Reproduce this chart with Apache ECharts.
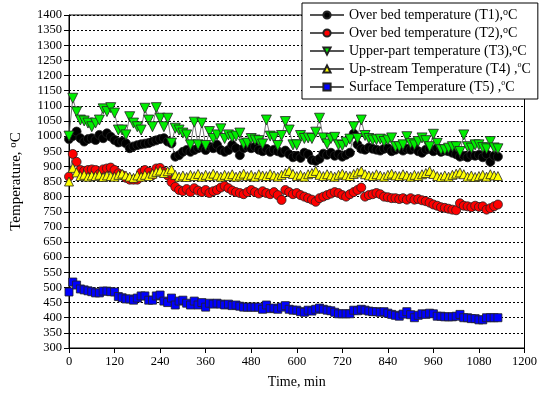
<!DOCTYPE html>
<html>
<head>
<meta charset="utf-8">
<script src="https://cdn.jsdelivr.net/npm/echarts@6/dist/echarts.min.js"></script>
<style>
  html, body { margin: 0; padding: 0; background: #fff; }
  #chart { width: 540px; height: 394px; }
</style>
</head>
<body>
<div id="chart"></div>
<script>
// time, min (one reading every 10 min)
const time = [0,10,20,30,40,50,60,70,80,90,100,110,120,130,140,150,160,170,180,190,
  200,210,220,230,240,250,260,270,280,290,300,310,320,330,340,350,360,370,380,390,
  400,410,420,430,440,450,460,470,480,490,500,510,520,530,540,550,560,570,580,590,
  600,610,620,630,640,650,660,670,680,690,700,710,720,730,740,750,760,770,780,790,
  800,810,820,830,840,850,860,870,880,890,900,910,920,930,940,950,960,970,980,990,
  1000,1010,1020,1030,1040,1050,1060,1070,1080,1090,1100,1110,1120,1130];

// Over bed temperature (T1)
const t1 = [990,1000,1015,993,982,990,993,987,1004,993,1009,998,987,979,982,976,960,966,970,973,
  975,977,982,986,990,993,982,976,932,937,948,954,948,954,960,965,954,965,960,971,
  954,948,954,971,960,937,960,965,960,965,955,950,958,948,955,950,945,952,940,930,
  935,928,945,940,921,918,925,942,938,945,935,940,932,938,945,1008,972,958,955,962,
  958,955,952,958,960,950,955,960,952,958,955,962,950,945,955,958,950,960,948,952,
  950,945,940,932,935,930,938,935,938,930,940,915,935,932];

// Over bed temperature (T2)
const t2 = [866,941,915,888,885,888,890,888,875,890,893,896,888,877,871,862,856,856,856,880,
  888,882,871,893,895,882,870,848,832,822,818,825,815,828,820,815,822,812,818,822,
  830,835,828,820,815,812,808,815,822,815,810,818,812,808,815,805,789,822,815,808,
  812,805,800,795,790,783,795,800,805,810,815,812,805,800,808,815,822,830,800,805,
  808,812,808,800,798,795,795,792,795,790,795,790,792,788,785,780,774,770,765,763,
  760,757,755,778,770,768,765,770,766,768,757,762,768,774];

// Upper-part temperature (T3)
const t3 = [1000,1125,1080,1053,1050,1043,1031,1043,1053,1090,1081,1094,1076,1020,1020,1004,1064,1043,1031,1020,
  1092,1053,1031,1094,1059,1031,1059,977,1026,1020,1010,1004,971,1046,971,1043,969,1015,992,1004,
  1024,992,1004,997,1000,1010,974,977,992,987,985,974,1053,1000,996,969,1002,1048,1020,971,
  971,1002,992,994,992,1013,1059,994,974,992,996,971,969,980,990,1031,992,1053,1002,992,
  987,988,990,982,987,994,965,965,971,998,976,971,982,994,985,965,1006,976,955,955,
  960,965,965,949,1004,965,960,971,971,962,958,982,961,958];

// Up-stream Temperature (T4)
const t4 = [850,895,880,868,872,866,870,868,872,865,870,868,866,872,876,870,866,862,870,866,
  872,868,876,882,886,878,884,890,872,866,870,865,872,868,875,866,872,868,876,870,
  866,872,868,874,866,870,876,868,872,866,874,870,868,875,870,866,872,878,885,875,
  868,872,866,874,878,885,872,868,874,870,866,872,876,870,868,875,880,885,874,870,
  868,874,870,866,872,876,870,868,874,870,866,872,868,874,878,885,875,868,865,870,
  866,872,876,880,874,866,870,865,868,872,866,874,870,868];

// Surface Temperature (T5)
const t5 = [485,518,508,495,492,489,486,482,482,488,488,486,485,470,466,462,462,458,465,472,
  472,458,458,472,475,455,450,465,442,455,458,448,442,455,442,450,435,448,445,448,
  445,442,445,440,442,438,435,435,435,435,435,428,442,430,432,428,435,440,428,425,
  425,420,418,425,422,428,432,428,425,423,418,413,413,413,413,425,423,428,425,422,
  420,420,418,420,415,411,408,405,412,420,410,400,408,413,411,415,413,405,405,403,
  403,403,405,411,400,400,397,397,393,393,400,400,400,400];

const xTicks = { min: 0, max: 1200, interval: 120 };
const yTicks = { min: 300, max: 1400, interval: 50 };

const legendNames = {
  T1: 'Over bed temperature (T1),{sup|o}C',
  T2: 'Over bed temperature (T2),{sup|o}C',
  T3: 'Upper-part temperature (T3),{sup|o}C',
  T4: 'Up-stream Temperature (T4) ,{sm|o}C',
  T5: 'Surface Temperature (T5) ,{sm|o}C'
};

const serif = 'Liberation Serif';
const triDown = 'path://M0,0L20,0L10,17Z';

function pairs(vals) {
  return vals.map((v, i) => [time[i], v]);
}

function mk(name, vals, symbol, size, color) {
  return {
    name: name,
    type: 'line',
    data: pairs(vals),
    symbol: symbol,
    symbolSize: size,
    showAllSymbol: true,
    itemStyle: { color: color, borderColor: '#222', borderWidth: 0.8 },
    lineStyle: { color: '#555', width: 0.8 },
    emphasis: { disabled: true },
    animation: false
  };
}

const $chart = echarts.init(document.getElementById('chart'), null, { renderer: 'canvas' });

$chart.setOption({
  backgroundColor: '#fff',
  grid: { left: 64, right: 9, top: 15, bottom: 46, show: true, borderColor: '#000', borderWidth: 1 },
  legend: {
    orient: 'vertical',
    left: 302,
    top: 3,
    padding: [4, 7, 4, 7],
    itemGap: 2,
    itemWidth: 34,
    itemHeight: 9,
    backgroundColor: '#fff',
    borderColor: '#000',
    borderWidth: 1,
    formatter: n => legendNames[n],
    textStyle: {
      fontFamily: serif, fontSize: 14, color: '#000', lineHeight: 16,
      rich: {
        sup: { fontFamily: serif, fontSize: 10, verticalAlign: 'top', lineHeight: 10 },
        sm: { fontFamily: serif, fontSize: 8, verticalAlign: 'top', lineHeight: 10 }
      }
    },
    data: ['T1', 'T2', 'T3', 'T4', 'T5']
  },
  xAxis: {
    type: 'value',
    min: xTicks.min, max: xTicks.max, interval: xTicks.interval,
    name: 'Time, min',
    nameLocation: 'middle',
    nameGap: 27,
    nameTextStyle: { fontFamily: serif, fontSize: 14, color: '#000' },
    axisLine: { lineStyle: { color: '#000', width: 1 } },
    axisTick: { length: 5, lineStyle: { color: '#000' } },
    axisLabel: { fontFamily: serif, fontSize: 12.5, color: '#000', margin: 7, formatter: v => String(v) },
    splitLine: { show: false }
  },
  yAxis: {
    type: 'value',
    min: yTicks.min, max: yTicks.max, interval: yTicks.interval,
    name: 'Temperature, {sup|o}C',
    nameLocation: 'middle',
    nameGap: 44,
    nameTextStyle: {
      fontFamily: serif, fontSize: 15, color: '#000', lineHeight: 17,
      rich: { sup: { fontFamily: serif, fontSize: 11, verticalAlign: 'top', lineHeight: 11 } }
    },
    axisLine: { show: true, lineStyle: { color: '#000', width: 1 } },
    axisTick: { show: true, length: 5, lineStyle: { color: '#000' } },
    axisLabel: { fontFamily: serif, fontSize: 12.5, color: '#000', margin: 7, formatter: v => String(v) },
    splitLine: { show: true, lineStyle: { color: '#000', width: 1, type: [2, 2] } }
  },
  series: [
    mk('T1', t1, 'circle', 9, '#000'),
    mk('T2', t2, 'circle', 9, '#ff0000'),
    mk('T3', t3, triDown, 10, '#00ee00'),
    mk('T4', t4, 'triangle', 9, '#ffff00'),
    mk('T5', t5, 'rect', 8, '#0000ff')
  ]
});
</script>
</body>
</html>
